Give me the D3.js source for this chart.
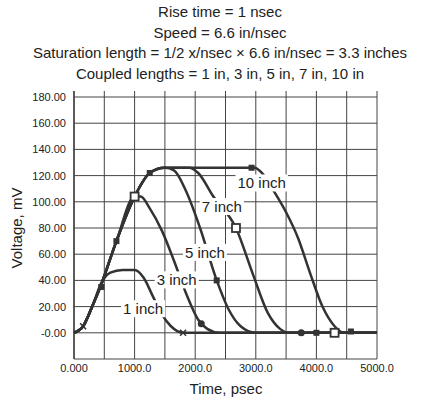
<!DOCTYPE html>
<html><head><meta charset="utf-8">
<script src="https://cdn.jsdelivr.net/npm/d3@7"></script>
<style>body{margin:0;background:#fff}text{font-family:"Liberation Sans",Arial,sans-serif;fill:#222}</style>
</head><body><svg id="c" width="440" height="400"></svg>
<script>
var titles = ["Rise time = 1 nsec", "Speed = 6.6 in/nsec",
  "Saturation length = 1/2 x/nsec \u00d7 6.6 in/nsec = 3.3 inches",
  "Coupled lengths = 1 in, 3 in, 5 in, 7 in, 10 in"];
var xTicks = [0, 1000, 2000, 3000, 4000, 5000];
var xTickLabels = ["0.000", "1000.0", "2000.0", "3000.0", "4000.0", "5000.0"];
var yTicks = [0, 20, 40, 60, 80, 100, 120, 140, 160, 180];
var yTickLabels = ["-0.00", "20.00", "40.00", "60.00", "80.00", "100.00", "120.00", "140.00", "160.00", "180.00"];
var names = ["1 inch", "3 inch", "5 inch", "7 inch", "10 inch"];
var series = [
  [[0,0],[150,5],[300,20],[450,38],[600,46],[800,48],[1000,48],[1150,42],[1300,28],[1450,14],[1600,5],[1800,0],[5000,0]],
  [[0,0],[150,5],[300,20],[450,37],[700,70],[1000,104],[1100,104],[1250,95],[1450,78],[1650,55],[1850,30],[2050,10],[2200,3],[2400,0],[5000,0]],
  [[0,0],[150,5],[300,20],[450,37],[700,70],[1000,104],[1250,122],[1500,126],[1650,124],[1850,108],[2080,80],[2355,40],[2550,18],[2750,5],[3000,0],[5000,0]],
  [[0,0],[150,5],[300,20],[450,37],[700,70],[1000,104],[1250,122],[1500,126],[1900,126],[2050,122],[2300,104],[2673,80],[2950,45],[3200,15],[3400,3],[3550,0],[5000,0]],
  [[0,0],[150,5],[300,20],[450,37],[700,70],[1000,104],[1250,122],[1500,126],[2980,126],[3100,122],[3300,108],[3500,92],[3700,72],[3900,45],[4100,20],[4300,5],[4450,0],[5000,0]]
];
var markers = [
  [[150,5,"x"],[1800,0,"x"]],
  [[450,35,"s"],[2100,7,"c"],[3750,0,"c"]],
  [[1250,122,"s"],[2355,40,"s"],[4000,0,"s"]],
  [[700,70,"s"],[2673,80,"S"],[4300,0,"S"]],
  [[1000,104,"S"],[2930,126,"s"],[4570,1,"s"]]
];
var labelPos = [[1140,18],[1695,40],[2160,61],[2440,96],[3097,114]];

var svg = d3.select("#c");
var x = d3.scaleLinear().domain([0, 5000]).range([74, 377]);
var y = d3.scaleLinear().domain([-20, 180]).range([359, 97]);

svg.selectAll("text.t").data(titles).enter().append("text")
  .attr("x", 220).attr("y", function (d, i) { return 17 + i * 20.5; })
  .attr("text-anchor", "middle").style("font-size", "15px").text(function (d) { return d; });

var g = svg.append("g").attr("stroke", "#444").attr("stroke-width", 1);
d3.range(0, 5001, 500).forEach(function (v) {
  g.append("line").attr("x1", x(v)).attr("x2", x(v)).attr("y1", y(180) - 6).attr("y2", y(-20));
});
d3.range(-20, 181, 20).forEach(function (v) {
  g.append("line").attr("x1", x(0)).attr("x2", x(5000)).attr("y1", y(v)).attr("y2", y(v));
});
g.append("line").attr("x1", x(0)).attr("x2", x(0)).attr("y1", y(180) - 6).attr("y2", y(-20)).attr("stroke-width", 1.5);

svg.selectAll("text.yt").data(yTicks).enter().append("text")
  .attr("x", 66).attr("y", function (d) { return y(d) + 4; }).attr("text-anchor", "end")
  .style("font-size", "11px").text(function (d, i) { return yTickLabels[i]; });
svg.selectAll("text.xt").data(xTicks).enter().append("text")
  .attr("x", function (d) { return x(d); }).attr("y", 372).attr("text-anchor", "middle")
  .style("font-size", "11px").text(function (d, i) { return xTickLabels[i]; });

svg.append("text").attr("x", 226).attr("y", 394).attr("text-anchor", "middle").style("font-size", "15px").text("Time, psec");
svg.append("text").attr("transform", "translate(22,228) rotate(-90)").attr("text-anchor", "middle").style("font-size", "15px").text("Voltage, mV");

var line = d3.line().x(function (d) { return x(d[0]); }).y(function (d) { return y(d[1]); }).curve(d3.curveMonotoneX);
svg.selectAll("path.s").data(series).enter().append("path")
  .attr("d", line).attr("fill", "none").attr("stroke", "#333").attr("stroke-width", 2.5);

markers.forEach(function (ms) {
  ms.forEach(function (m) {
    var cx = x(m[0]), cy = y(m[1]);
    if (m[2] === "s") svg.append("rect").attr("x", cx - 3).attr("y", cy - 3).attr("width", 6).attr("height", 6).attr("fill", "#333");
    else if (m[2] === "S") svg.append("rect").attr("x", cx - 4).attr("y", cy - 4).attr("width", 8).attr("height", 8).attr("fill", "#fff").attr("stroke", "#333").attr("stroke-width", 1.8);
    else if (m[2] === "c") svg.append("circle").attr("cx", cx).attr("cy", cy).attr("r", 3.5).attr("fill", "#333");
    else svg.append("path").attr("d", "M" + (cx - 3) + "," + (cy - 3) + "l6,6m0,-6l-6,6").attr("stroke", "#333").attr("stroke-width", 1.5);
  });
});

names.forEach(function (n, i) {
  var lx = x(labelPos[i][0]), ly = y(labelPos[i][1]);
  var t = svg.append("text").attr("x", lx).attr("y", ly + 5).attr("text-anchor", "middle").style("font-size", "15px").text(n);
  var b = t.node().getBBox();
  svg.insert("rect", function () { return t.node(); }).attr("x", b.x - 2).attr("y", b.y).attr("width", b.width + 4).attr("height", b.height).attr("fill", "#fff");
});
</script></body></html>
